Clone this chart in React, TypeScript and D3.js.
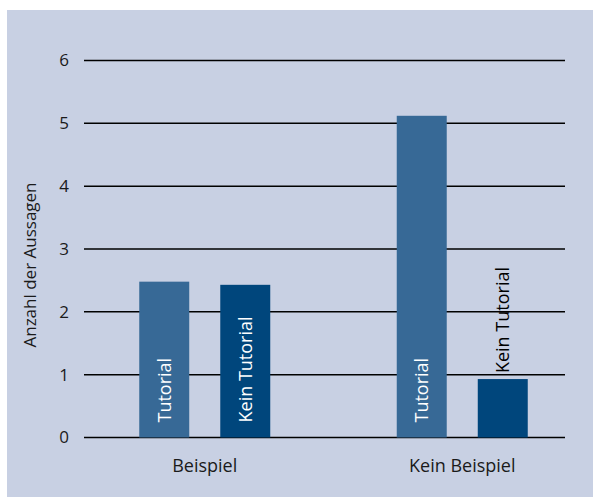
import { useEffect } from 'react';
import * as d3 from 'd3';

const groups = ['Beispiel', 'Kein Beispiel'];
const series = ['Tutorial', 'Kein Tutorial'];
const values: Record<string, number[]> = {
  Beispiel: [2.48, 2.43],
  'Kein Beispiel': [5.12, 0.93],
};
const yTicks = [0, 1, 2, 3, 4, 5, 6];
const colors = ['#376996', '#00467c'];

const W = 593;
const H = 497;
const font = '"Open Sans", sans-serif';

export default function App() {
  useEffect(() => {
    document.body.style.margin = '0';
  }, []);

  const y = d3.scaleLinear().domain([0, 6]).range([437.5, 60.5]);
  const x0 = d3.scaleBand().domain(groups).range([76, 591]);
  const x1 = d3.scaleBand().domain(series).range([0, 131]).paddingInner(0.383).paddingOuter(0);
  const groupOffset = (x0.bandwidth() - 131) / 2;

  return (
    <svg width={W} height={H} style={{ display: 'block' }}>
      <rect x={7} y={10} width={W - 7} height={H - 10} fill="#c8d0e3" />
      {yTicks.map((t) => (
        <g key={t}>
          <line x1={84} x2={565} y1={y(t)} y2={y(t)} stroke="#000" strokeWidth={1.5} />
          <text x={69} y={y(t)} dy="0.35em" textAnchor="end" fontFamily={font} fontSize={17} fill="#1a1a1a">
            {t}
          </text>
        </g>
      ))}
      <text
        transform={`translate(30,265) rotate(-90)`}
        textAnchor="middle"
        dy="0.35em"
        fontFamily={font}
        fontSize={17}
        fill="#1a1a1a"
      >
        Anzahl der Aussagen
      </text>
      {groups.map((g) => {
        const gx = (x0(g) ?? 0) + groupOffset;
        return (
          <g key={g}>
            {series.map((s, i) => {
              const v = values[g][i];
              const bx = gx + (x1(s) ?? 0);
              const bw = x1.bandwidth();
              const top = y(v);
              const h = y(0) - top;
              const cx = bx + bw / 2;
              const inside = h > 120;
              const ty = inside ? y(0) - 15 : top - 6;
              return (
                <g key={s}>
                  <rect x={bx} y={top} width={bw} height={h} fill={colors[i]} />
                  <text
                    transform={`translate(${cx},${ty}) rotate(-90)`}
                    dy="0.35em"
                    textAnchor="start"
                    fontFamily={font}
                    fontSize={18}
                    fill={inside ? '#fff' : '#000'}
                  >
                    {s}
                  </text>
                </g>
              );
            })}
            <text
              x={(x0(g) ?? 0) + x0.bandwidth() / 2}
              y={466}
              dy="0.35em"
              textAnchor="middle"
              fontFamily={font}
              fontSize={18}
              fill="#1a1a1a"
            >
              {g}
            </text>
          </g>
        );
      })}
    </svg>
  );
}
